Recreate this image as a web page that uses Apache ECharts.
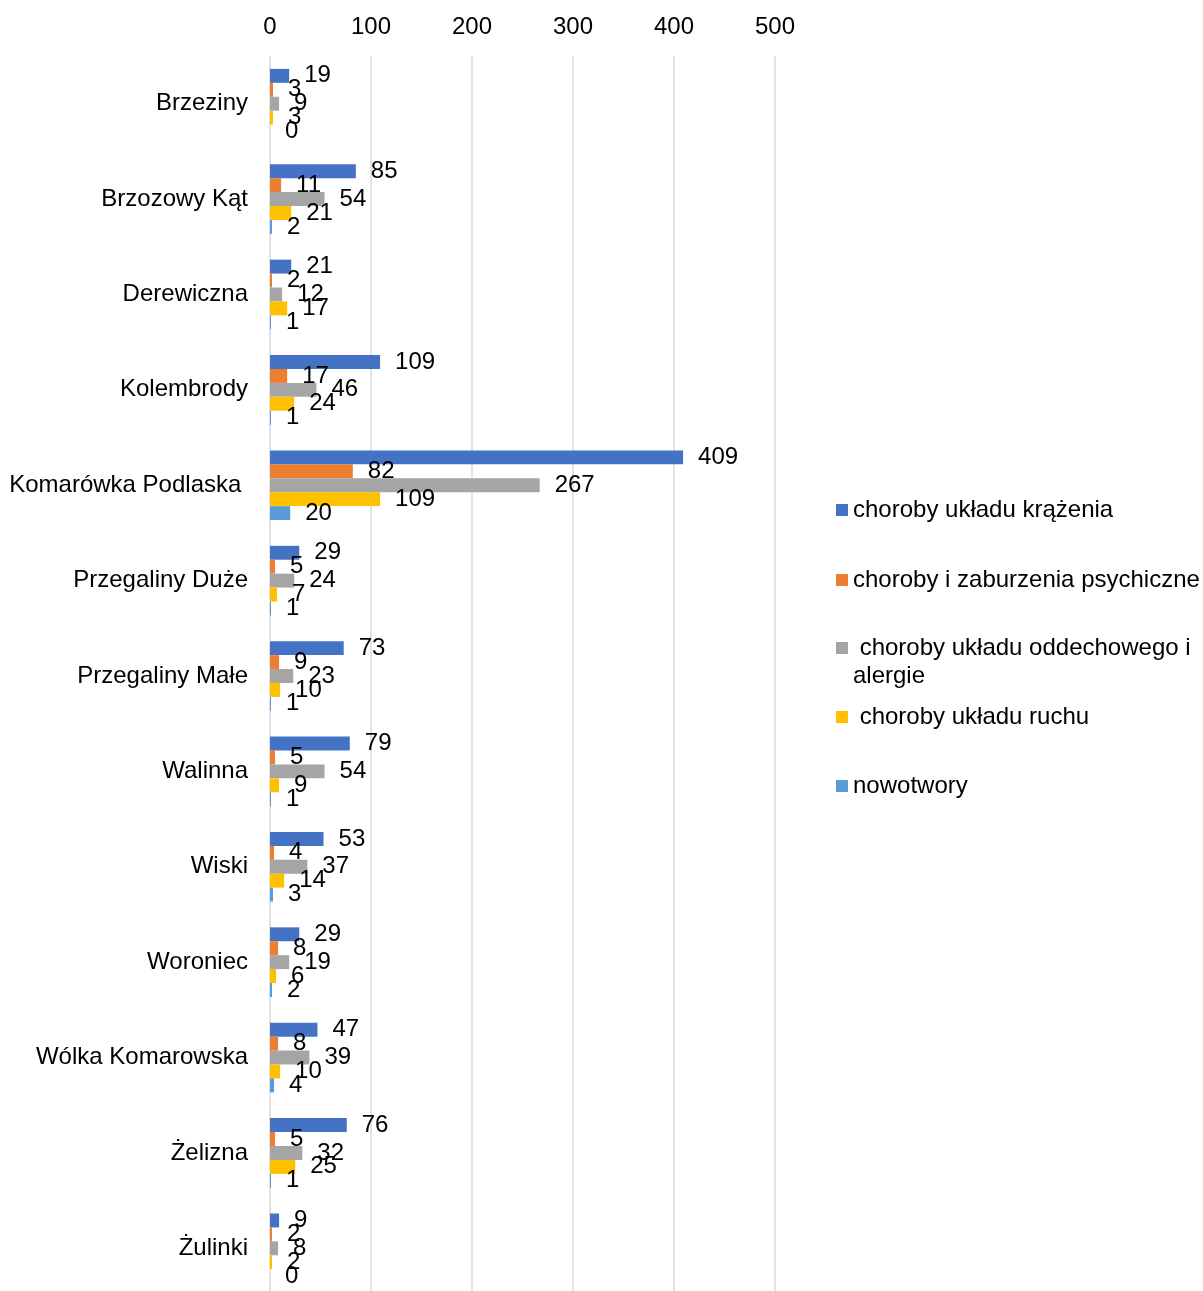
<!DOCTYPE html>
<html>
<head>
<meta charset="utf-8">
<script src="https://cdn.jsdelivr.net/npm/echarts@6/dist/echarts.min.js"></script>
<style>
  html, body { margin: 0; padding: 0; background: #fff; }
  #chart { width: 1203px; height: 1291px; }
</style>
</head>
<body>
<div id="chart"></div>
<script>
// categories, top to bottom
var villages = ['Brzeziny', 'Brzozowy Kąt', 'Derewiczna', 'Kolembrody', 'Komarówka Podlaska ',
  'Przegaliny Duże', 'Przegaliny Małe', 'Walinna', 'Wiski', 'Woroniec',
  'Wólka Komarowska', 'Żelizna', 'Żulinki'];

var seriesNames = ['choroby układu krążenia', 'choroby i zaburzenia psychiczne',
  ' choroby układu oddechowego i alergie', ' choroby układu ruchu', 'nowotwory'];

var krazenie    = [19, 85, 21, 109, 409, 29, 73, 79, 53, 29, 47, 76, 9];
var psychiczne  = [3, 11, 2, 17, 82, 5, 9, 5, 4, 8, 8, 5, 2];
var oddechowe   = [9, 54, 12, 46, 267, 24, 23, 54, 37, 19, 39, 32, 8];
var ruchu       = [3, 21, 17, 24, 109, 7, 10, 9, 14, 6, 10, 25, 2];
var nowotwory   = [0, 2, 1, 1, 20, 1, 1, 1, 3, 2, 4, 1, 0];

var xTicks = [0, 100, 200, 300, 400, 500];

var colors = ['#4472C4', '#ED7D31', '#A5A5A5', '#FFC000', '#5B9BD5'];
var font = 'Liberation Sans, Arial, sans-serif';

var values = [krazenie, psychiczne, oddechowe, ruchu, nowotwory];
var series = seriesNames.map(function (name, i) {
  return {
    name: name,
    type: 'bar',
    data: values[i],
    itemStyle: { color: colors[i] },
    barGap: '0%',
    barCategoryGap: '27%',
    label: {
      show: true,
      position: 'right',
      distance: 15,
      color: '#000',
      fontSize: 24,
      fontFamily: font
    }
  };
});

// one legend block per entry so the spacing follows the original
var legendTops = [496, 566, 606, 703, 772];
var legends = seriesNames.map(function (name, i) {
  return {
    data: [name],
    left: 836,
    top: legendTops[i],
    padding: 0,
    orient: 'vertical',
    itemWidth: 12,
    itemHeight: 12,
    itemGap: 0,
    icon: 'rect',
    textStyle: {
      fontSize: 24,
      fontFamily: font,
      color: '#000',
      lineHeight: 28
    },
    formatter: function (n) {
      // wrapped entry: blank first line keeps the marker level with the first text line
      if (n.indexOf('oddechowego i ') >= 0) {
        return ' \n' + n.replace('oddechowego i ', 'oddechowego i\n');
      }
      return n;
    }
  };
});

var chart = echarts.init(document.getElementById('chart'));
chart.setOption({
  animation: false,
  textStyle: { fontFamily: font },
  grid: { left: 270, top: 56, width: 505, height: 1240, outerBoundsMode: 'none', containLabel: false },
  legend: legends,
  xAxis: {
    type: 'value',
    position: 'top',
    min: xTicks[0],
    max: xTicks[xTicks.length - 1],
    interval: 100,
    axisLine: { show: false },
    axisTick: { show: false },
    axisLabel: { fontSize: 24, color: '#000', margin: 17, fontFamily: font },
    splitLine: { lineStyle: { color: '#D9D9D9', width: 1.5 } }
  },
  yAxis: {
    type: 'category',
    data: villages,
    inverse: true,
    axisLine: { show: false },
    axisTick: { show: false },
    axisLabel: { fontSize: 24, color: '#000', margin: 22, fontFamily: font }
  },
  series: series
});
</script>
</body>
</html>
